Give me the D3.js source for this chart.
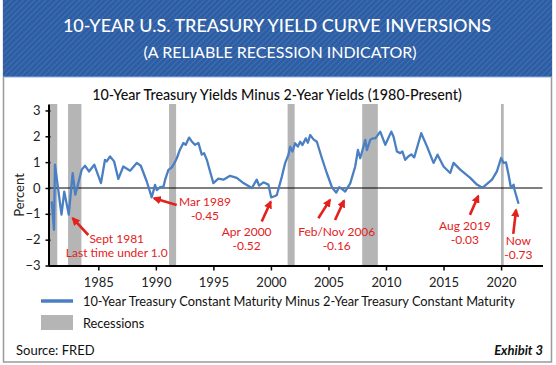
<!DOCTYPE html>
<html><head><meta charset="utf-8">
<script src="https://cdn.jsdelivr.net/npm/d3@7"></script>
<style>
html,body{margin:0;padding:0;background:#fff;}
svg{display:block;font-family:Lato,"Open Sans",sans-serif;}
</style></head>
<body><svg id="c" width="556" height="365"></svg>
<script>
// ---- data ----
const years = [1980.95,1981.15,1981.23,1981.80,1982.04,1982.43,1982.77,1983.00,1983.56,1983.84,1984.19,1984.65,1985.23,1985.58,1985.73,1986.02,1986.37,1986.74,1987.17,1987.76,1988.34,1988.69,1989.21,1989.64,1989.93,1990.08,1990.37,1990.66,1990.80,1991.09,1991.39,1991.68,1991.82,1992.10,1992.39,1992.60,1992.89,1993.12,1993.41,1993.70,1993.99,1994.19,1994.43,1994.71,1995.00,1995.43,1995.87,1996.45,1997.03,1997.61,1998.34,1998.77,1998.97,1999.35,1999.78,2000.02,2000.37,2000.51,2000.95,2001.23,2001.52,2001.67,2001.87,2002.10,2002.34,2002.54,2002.74,2003.03,2003.21,2003.41,2003.70,2003.99,2004.43,2004.86,2005.30,2005.67,2005.93,2006.22,2006.45,2006.89,2007.32,2007.56,2007.76,2008.20,2008.34,2008.63,2008.83,2009.07,2009.50,2009.94,2010.46,2010.65,2010.95,2011.23,2011.43,2011.67,2011.94,2012.20,2012.45,2013.06,2013.56,2014.13,2014.48,2015.00,2015.58,2015.87,2016.45,2017.32,2017.90,2018.34,2018.48,2019.21,2019.64,2020.00,2020.22,2020.43,2020.65,2020.86,2021.09,2021.17,2021.52];
const spread = [-0.52,-1.62,0.90,-1.03,-0.14,-1.03,0.57,-0.26,0.71,0.86,0.64,0.90,0.19,1.09,1.03,1.22,1.03,0.35,0.83,0.67,0.97,0.86,0.25,-0.36,0.12,-0.08,0.03,0.05,0.31,0.70,0.80,1.02,1.15,1.49,1.74,1.67,1.95,1.80,1.67,1.74,1.29,1.35,1.09,0.64,0.19,0.36,0.32,0.47,0.39,0.19,0.00,0.32,0.09,0.22,0.13,-0.36,-0.31,-0.27,0.44,0.96,1.28,1.60,1.41,1.73,1.60,1.79,1.66,1.92,1.75,2.05,1.88,1.79,1.15,0.57,0.03,-0.18,0.03,-0.05,-0.14,0.18,0.82,1.47,1.15,1.86,1.47,1.86,1.92,1.92,2.18,1.67,2.18,1.99,1.41,1.35,1.41,1.09,1.22,1.30,1.18,2.12,1.61,0.97,1.29,0.83,0.58,0.97,0.71,0.39,0.13,0.02,0.04,0.32,0.64,1.16,0.97,0.99,0.51,0.00,0.13,-0.07,-0.61];
const recessionStart = [1980.80,1982.37,1991.15,2001.45,2007.93,2019.99];
const recessionEnd   = [1981.43,1983.53,1991.76,2002.06,2009.29,2020.23];
const xTicks = [1985,1990,1995,2000,2005,2010,2015,2020];
const yTicks = [-3,-2,-1,0,1,2,3];
// annotations: text lines, text anchor (year, value), arrows [tailYear, tailVal, headYear, headVal]
const annLines = [["Sept 1981","Last time under 1.0"],["Mar 1989","-0.45"],["Apr 2000","-0.52"],["Feb/Nov 2006","-0.16"],["Aug 2019","-0.03"],["Now","-0.73"]];
const annYear = [1986.60,1994.27,1997.89,2005.72,2016.86,2021.50];
const annVal  = [-2.11,-0.68,-1.84,-1.84,-1.61,-2.19];
const annVal2 = [-2.67,-1.24,-2.40,-2.40,-2.15,-2.75];
const arrows = [[1984.13,-1.82,1982.77,-1.17],[1991.81,-0.66,1989.84,-0.40],[1999.20,-1.30,1999.98,-0.53],[2004.12,-1.17,2005.13,-0.46],[2005.57,-1.24,2006.35,-0.49],[2017.29,-1.04,2018.02,-0.31],[2021.06,-1.78,2021.30,-0.85]];

const title = "10-YEAR U.S. TREASURY YIELD CURVE INVERSIONS";
const subtitle = "(A RELIABLE RECESSION INDICATOR)";
const chartTitle = "10-Year Treasury Yields Minus 2-Year Yields (1980-Present)";
const legendItems = ["10-Year Treasury Constant Maturity Minus 2-Year Treasury Constant Maturity","Recessions"];

// ---- drawing ----
const svg = d3.select("#c");
const defs = svg.append("defs");
const pat = defs.append("pattern").attr("id","stripes").attr("patternUnits","userSpaceOnUse")
  .attr("width",4).attr("height",4).attr("patternTransform","rotate(45)");
pat.append("rect").attr("width",4).attr("height",4).attr("fill","#2d5da3");
pat.append("line").attr("x1",0).attr("y1",0).attr("x2",0).attr("y2",4).attr("stroke","#4674b6").attr("stroke-width",1.6);
defs.append("marker").attr("id","ah").attr("viewBox","0 0 10 10").attr("refX",8).attr("refY",5)
  .attr("markerWidth",3.2).attr("markerHeight",3.2).attr("orient","auto")
  .append("path").attr("d","M0,0L10,5L0,10z").attr("fill","#e3211c");

// frame
svg.append("rect").attr("x",3.5).attr("y",0.5).attr("width",548).attr("height",361.5)
  .attr("fill","#fff").attr("stroke","#9a9a9a").attr("stroke-width",1.5);
// header
svg.append("rect").attr("x",3).attr("y",0).attr("width",549).attr("height",77).attr("fill","url(#stripes)");
svg.append("line").attr("x1",3).attr("x2",552).attr("y1",77).attr("y2",77).attr("stroke","#8fb0dc").attr("stroke-width",1);
svg.append("text").attr("x",277).attr("y",32).attr("text-anchor","middle").attr("fill","#fff")
  .attr("font-size",18).attr("font-weight",500).text(title);
svg.append("text").attr("x",280).attr("y",58).attr("text-anchor","middle").attr("fill","#fff")
  .attr("font-size",16).text(subtitle);
svg.append("text").attr("x",277).attr("y",100).attr("text-anchor","middle").attr("fill","#111")
  .attr("font-size",14.3).attr("font-weight",500).text(chartTitle);

const x = d3.scaleLinear().domain([1980.67,2023.6]).range([48.5,542.5]);
const y = d3.scaleLinear().domain([-3,3.25]).range([265.5,104]);

// recessions
svg.append("g").selectAll("rect").data(recessionStart).join("rect")
  .attr("x",(d)=>x(d)).attr("width",(d,i)=>x(recessionEnd[i])-x(d))
  .attr("y",y(3.25)).attr("height",y(-3)-y(3.25)).attr("fill","#b5b5b5");

// zero line
svg.append("line").attr("x1",x(1980.67)).attr("x2",x(2023.6)).attr("y1",y(0)).attr("y2",y(0))
  .attr("stroke","#000").attr("stroke-width",1.2);

// series
const pts = years.map((d,i)=>[d,spread[i]]);
svg.append("path").datum(pts).attr("fill","none").attr("stroke","#4a7fc3").attr("stroke-width",2.3)
  .attr("stroke-linejoin","round")
  .attr("d",d3.line().x(d=>x(d[0])).y(d=>y(d[1])));

// axes
const ya = svg.append("g").attr("transform","translate(48.5,0)")
  .call(d3.axisLeft(y).tickValues(yTicks).tickSizeInner(3).tickSizeOuter(0).tickPadding(5).tickFormat(d3.format("d")));
ya.selectAll(".tick line").attr("x1",2).attr("stroke-width",1.5);
ya.select(".domain").attr("stroke-width",2);
ya.selectAll("text").attr("font-size",13).attr("fill","#222").attr("font-family","Lato,sans-serif");
const xa = svg.append("g").attr("transform","translate(0,265.5)")
  .call(d3.axisBottom(x).tickValues(xTicks).tickSizeInner(5).tickSizeOuter(0).tickPadding(7).tickFormat(d3.format("d")));
xa.selectAll(".tick line").attr("stroke-width",1.5);
xa.select(".domain").attr("stroke-width",2);
xa.selectAll("text").attr("font-size",13).attr("fill","#222").attr("font-family","Lato,sans-serif");

svg.append("text").attr("transform","translate(24,"+195+") rotate(-90)").attr("text-anchor","middle")
  .attr("font-size",13).attr("fill","#222").text("Percent");

// annotations
svg.append("g").selectAll("line").data(arrows).join("line")
  .attr("x1",d=>x(d[0])).attr("y1",d=>y(d[1])).attr("x2",d=>x(d[2])).attr("y2",d=>y(d[3]))
  .attr("stroke","#e3211c").attr("stroke-width",2.6).attr("marker-end","url(#ah)");
const ag = svg.append("g").attr("fill","#e3211c").attr("font-size",12).attr("text-anchor","middle");
annLines.forEach((l,i)=>{
  ag.append("text").attr("x",x(annYear[i])).attr("y",y(annVal[i])).text(l[0]);
  ag.append("text").attr("x",x(annYear[i])).attr("y",y(annVal2[i])).text(l[1]);
});

// legend
svg.append("line").attr("x1",41).attr("x2",73).attr("y1",301).attr("y2",301).attr("stroke","#4a7fc3").attr("stroke-width",3.5);
svg.append("rect").attr("x",41).attr("y",315).attr("width",32).attr("height",15).attr("fill","#b5b5b5");
svg.append("text").attr("x",83).attr("y",305.5).attr("font-size",12.8).attr("fill","#111").text(legendItems[0]);
svg.append("text").attr("x",83).attr("y",327.5).attr("font-size",12.8).attr("fill","#111").text(legendItems[1]);
svg.append("text").attr("x",16).attr("y",355).attr("font-size",13).attr("fill","#111").text("Source: FRED");
svg.append("text").attr("x",543).attr("y",355).attr("text-anchor","end").attr("font-size",13)
  .attr("font-weight","bold").attr("font-style","italic").attr("fill","#111").text("Exhibit 3");
</script></body></html>
